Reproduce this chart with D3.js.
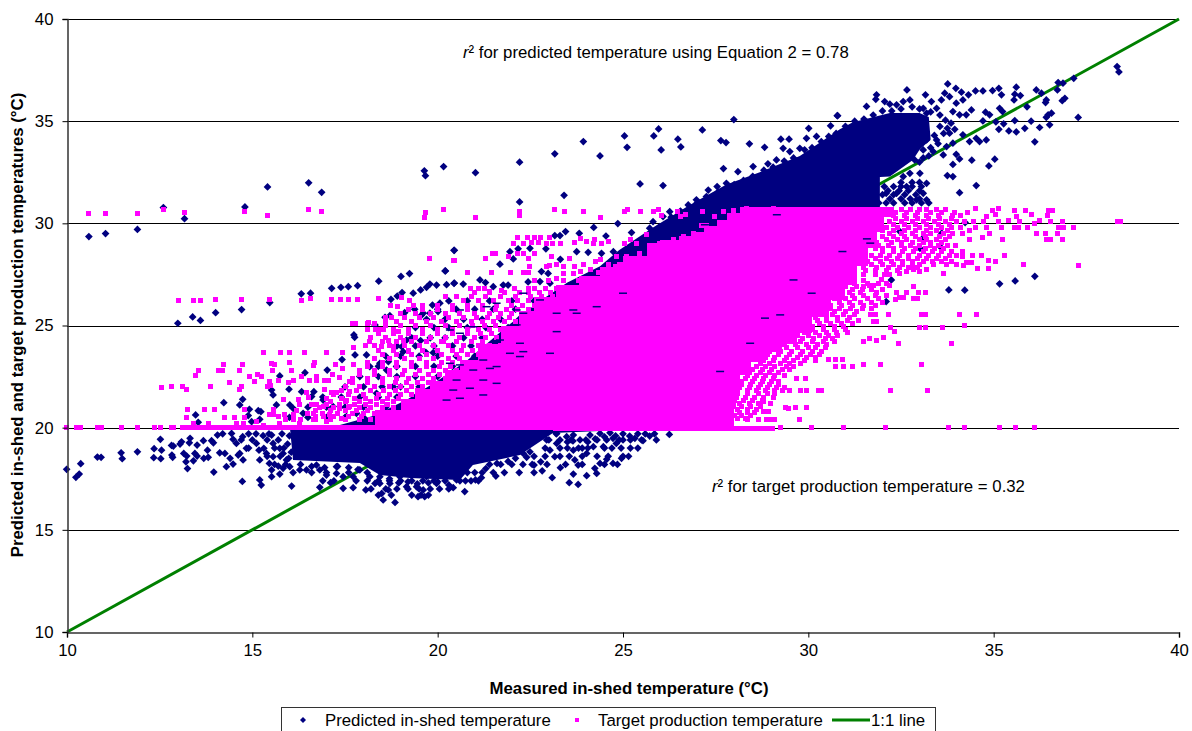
<!DOCTYPE html>
<html><head><meta charset="utf-8"><style>
html,body{margin:0;padding:0;background:#fff}
svg{display:block}
text{font-family:"Liberation Sans",Arial,sans-serif;fill:#000}
</style><script src="https://cdn.jsdelivr.net/npm/d3@7"></script></head><body><svg id="c" width="1192" height="731"></svg>
<script>
// All values are estimates, in degrees C [measured, value].
const xTicks=[10,15,20,25,30,35,40], yTicks=[10,15,20,25,30,35,40];
const lineEnds=[[10,10],[40,40]];
const legendLabels=["Predicted in-shed temperature","Target production temperature","1:1 line"];
// The overplotted solid parts of the two clouds are traced outlines: single markers cannot be read there.
const predictedCore=[[16.02,19.89],[16.1,18.42],[17.9,18.27],[18.44,17.68],[19.25,17.54],[20.6,17.44],[20.95,18.17],[22.22,18.66],[23.11,19.74],[24.38,19.84],[27.6,26.25],[31.93,30.8],[31.93,32.27],[32.2,32.29],[32.82,33.1],[33,33.6],[33.3,34.1],[33.25,35.2],[33,35.4],[32.2,35.4],[31.2,34.95],[30.85,34.6],[29.77,33.3],[28.69,32.5],[27.79,31.9],[26.8,30.9],[25.81,29.8],[24.9,28.7],[24.38,27.9],[23.5,27.1],[22.76,26.2],[21.9,25],[20.8,23.3],[20,22.3],[19.2,21.4],[18.3,20.6],[17.09,19.99]];
const targetCore=[[13.05,19.88],[13.05,20.12],[18.2,20.12],[18.3,20.85],[19,21.4],[19.4,21.9],[19.8,22.3],[20.2,22.8],[20.6,23.3],[21.1,24.1],[21.7,25],[22.2,25.7],[22.6,26.4],[23.2,27],[23.8,27.4],[24.38,27.87],[25,28.4],[25.65,29.04],[26,29.2],[26.5,29.4],[26.89,29.6],[27.2,29.85],[27.53,30.17],[27.8,30.5],[28.15,30.82],[32.47,30.82],[32.3,30.3],[32.05,29.6],[31.85,28.8],[31.6,27.9],[31.3,27],[31,26.25],[30.55,25.4],[30.1,24.63],[29.7,24.1],[29.3,23.7],[28.85,23.2],[28.45,22.6],[28.15,21.8],[28.05,20.9],[28,20.1],[29.1,20.1],[29.1,19.85]];
const predictedPoints=[[10.59,29.35],[11.04,29.5],[11.9,29.7],[12.6,30.77],[13.17,30.23],[14.8,30.8],[15.41,31.78],[16.52,31.98],[16.87,31.52],[19.64,32.57],[19.67,32.33],[20.16,32.78],[12.99,25.11],[13.39,25.42],[13.6,25.25],[14.01,25.63],[14.71,25.78],[15.47,26.12],[16.32,26.55],[16.57,26.58],[17.14,26.82],[17.39,26.87],[17.59,26.9],[17.84,26.95],[18.41,27.17],[19.01,27.4],[19.24,27.54],[20.45,28.68],[20.2,27.67],[20.24,27],[20.45,27.08],
[38.33,37.67],[38.38,37.41],[37.16,37.1],[36.87,36.86],[36.74,36.89],[36.72,36.53],[35.61,36.66],[36.15,36.53],[36.29,36.37],[35.57,36.32],[35.72,36.25],[35.55,36.04],[36.42,36.04],[36.4,35.91],[36.92,36.12],[36.85,36],[35.9,35.7],[37.28,35.18],[36.56,35.39],[36.47,35.31],[36.42,35.19],[36.01,35],[35.57,35.03],[35.27,34.87],[35.06,34.96],[34.71,35.01],[34.78,35.44],[34.89,35.31],[35.16,35.63],[35.24,35.47],[35.14,36.61],[35.21,36.29],[34.97,36.5],[34.71,36.48],[34.51,36.48],[33.76,36.82],[33.98,36.61],[34.13,36.42],[34.32,36.29],[32.66,36.53],[33.16,36.29],[31.84,36.29],[31.82,36.07],[32.06,35.96],[32.2,35.83],[31.57,35.72],[30.79,35.27],[35.14,34.6],[35.41,34.52],[35.61,34.47],[35.84,34.65],[36.24,34.69],[36.51,34.82],[36.11,33.99],[34.8,34.08],[34.62,34],[34.53,34.16],[34.35,34],[35.03,33.14],[34.87,32.81],[34.41,33.09],[34.08,33.15],[33.99,33.38],[33.9,32.88],[33.9,32.29],[33.75,32.34],[34.53,31.85],[34.08,31.5],
[32.38,35.8],[32.56,35.96],[32.74,36.04],[33.1,35.63],[33.32,35.96],[33.59,36.04],[33.81,36.2],[33.99,35.88],[34.17,36.04],[34.4,35.55],[34.26,35.31],[34.08,35.31],[33.9,35.47],[33.68,36.37],[33.46,35.63],[33.19,35.39],[33.01,34.74],[33.55,34.74],[33.81,34.41],[34.17,34.33],[33.46,34.08],[33.73,33.76],[33.9,33.92],[33.1,33.59],[33.37,33.51],[33.64,33.35],[33.01,34.41],[33.19,34.08],[32.87,33.1],[33.01,32.45],[33.19,31.96],[32.74,32.45],[32.56,32.29],[32.65,31.8],[33.1,31.47],[32.92,31.15],[33.19,31.15],[32.38,31.47],[32.1,31.47],
[21.02,32.48],[22.21,32.99],[23.16,33.4],[23.93,34],[24.38,33.3],[25.04,34.28],[25.11,33.72],[25.83,34.28],[25.96,34.62],[26.03,33.59],[26.48,34.12],[26.56,33.74],[27.14,34.57],[27.99,35.08],[27.64,34.05],[27.78,33.95],[28.41,33.89],[28.82,33.72],[29.26,34.12],[29.48,34.12],[29.32,33.67],[30.01,34.65],[30.78,35.27],[30.6,34.77],[27.71,32.68],[28.1,32.53],[28.51,32.78],[28.91,32.91],[29.14,33.1],[29.5,33.51],[29.77,33.67],[29.95,34.16],[30.22,34.25],[25.46,31.93],[26.08,31.85],[22.21,31.05],[23.41,31.37],[24.21,29.8],[24.86,29.99],[23.45,29.6],[23.16,29.4],[23.3,29.4],[23.82,29.51],[24.54,29.38],[25.23,29.55],[20.44,28.68],[20.21,27.67],[20.44,27.06],[20.69,27.03],[21.14,27.23],[21.29,27.1],[21.5,26.9],[21.77,26.98],[21.9,26.98],[21.68,28],[21.95,28.61],[22.04,28.26],[22.17,28.75],[22.44,27.13],[22.8,27.64],[22.98,27.55],[22.92,28.75],[22.49,28.78],[23.31,28.24],[23.75,28.61],[24.06,28.58],[24.42,28.53],[24.74,28.61],[22.76,27.15],[23.03,27.07],[25.81,30.08],[25.99,29.84],[25.72,29.76],[26.08,30.33],[26.26,30.57],[26.76,30.9],[26.98,31.15],[27.25,31.31],[27.3,31.63],[27.54,31.8],[27.79,31.96],[27.75,31.47],
[9.99,17.96],[10.37,18.24],[10.33,17.73],[10.24,17.57],[10.82,18.56],[10.92,18.55],[11.46,18.77],[11.49,18.48],[11.9,18.82],[12.35,18.97],[12.55,18.9],[12.34,18.53],[12.53,18.48],[12.52,19.43],[12.82,19.13],[12.87,19.1],[12.83,18.66],[12.85,18.55],[13.09,19.31],[13.05,19.2],[13.32,19.48],[13.3,19.26],[13.51,19.15],[13.68,19.36],[13.15,18.74],[13.23,18.61],[13.21,18.33],[13.25,18],[13.45,18.74],[13.51,18.61],[13.41,18.38],[13.69,18.5],[13.81,18.55],[13.79,18.9],[13.9,19.36],[13.95,19.26],[14.06,19.64],[14.12,18.77],[14.26,18.74],[14.4,18.5],[14.48,18.22],[14.3,18.09],[13.96,17.83],[14.44,19.72],[14.48,19.43],[14.57,19.23],[14.74,19.56],[14.84,18.99],[14.66,18.74],[14.75,18.42],[14.62,18.66],[14.73,17.37],[15.2,17.44],[15.24,17.19],[15.11,19.23],[15.29,19.61],[15.18,18.9],[15.31,18.99],[15.2,18.42],[15.46,18.25],[15.56,18.58],[15.38,18.74],[15.52,17.93],[15.52,17.6],[15.74,17.73],[15.83,18.01],[16.01,18.09],[16.06,17.14],[15.52,19.64],[15.56,19.23],[15.74,18.99],[15.83,18.74],[15.92,18.42],[15.7,18.12],[16.28,17.93],[16.46,17.93],[16.73,18.17],[16.82,17.93],[17,17.68],[17.27,18.09],[17.27,17.76],[16.82,17.08],[17.11,17.31],[17.45,17.03],[17.72,17.06],[18.06,16.95],[17.45,17.6],[17.72,17.6],[17.9,17.93],[18.17,17.6],[18.31,17.27],[18.44,17.27],[18.71,17.27],[18.49,16.78],[18.67,16.95],[18.53,16.46],[18.85,16.34],[19.47,16.62],[19.61,16.95],[19.65,16.62],[19.43,17.11],[19.97,17.27],[20.51,17.44],[19.16,17.11],[18.44,17.6],[18.98,17.6],[19.7,17.6],[20.24,17.6],
[17.74,24.54],[17.76,24.42],[17.77,23.56],[17.02,22.82],[17.42,23.33],[16.42,22.69],[15.74,22.53],[15.99,21.88],[16.33,21.76],[15.52,21.84],[15.56,21.6],[16.66,21.76],[16.6,21.52],[14.23,21.22],[14.74,21.39],[14.66,21.11],[14.92,20.9],[15.16,20.83],[15.23,20.78],[13.47,20.62],[13.54,20.26],[14.89,20.59],[14.98,20.29],[15.2,20.41],[15.65,21.11],[16.01,21.11],[16.1,20.95],[16.37,20.7],[16.91,21.35],[18.08,23.56],[18.17,22.99],[18.44,23.15],[18.67,23.23],[18.62,22.82],[18.89,22.99],[19.07,23.72],[19.03,23.96],[19.54,24.26],[19.88,23.67],[19.68,23.69],[19.16,24.29],[18.8,22],[18.35,21.68],[17.81,20.7],[17.54,20.54],[17.18,21.03],
[18.74,26.28],[18.91,26.44],[19.04,26.61],[19.34,26.58],[19.54,26.74],[19.7,26.87],[19.79,27.03],[19.97,26.98],[19.11,25.63],[19.38,25.79],[19.61,25.6],[19.86,26],[20.06,26.09],[19.79,25.6],[20.01,25.68],[18.58,25.4],[18.71,25.48],[18.31,25.02],[19.56,25.5],
[26.25,19.67],[25.72,19.59],[25.54,19.36],[25.32,19.48],[25.18,19.59],[24.96,18.5],[24.73,18.25],[24.56,18.45],[24.38,18.25],[24.24,18.01],[24.29,17.76],[24.02,17.65],[23.79,17.22],[23.66,17.73],[23.55,17.31],[23.31,18.04],[23.09,17.55],[22.82,17.89],[22.78,18.33],[22.6,18.17],[23.79,18.17],[23.7,18.42],[24.02,18.74],[23.66,18.9],[23.16,18.58],[23.03,18.9],[22.49,18.82],[22.94,19.4],[23.21,19.23],[23.48,19.56],[24.11,19.64],[24.47,19.07],[24.82,19.23],[24.2,19.07],[22.31,18.74],[21.57,17.63],[21.18,17.55],[21.02,17.44],[20.73,16.87],[20.42,17.06],[24.38,19.72],[24.56,19.4],[24.73,19.48],[25,19.4],[23.21,19.72],[23.66,19.64],[23.84,19.4],
[32.24,27.23],[32.1,26.17],[33.79,26.74],[34.22,26.73],[35.16,27.04],[35.58,27.18],[36.11,27.41],[33.6,29.52],[33.06,29.22],[33.01,28.78],[33.6,28.78],[34.23,30.04],[31.71,29.19],[32.47,29.6],[30.9,28.62],
[16.3,18.2],[16.6,18.1],[16.95,18.05],[17.3,18.1],[17.6,18.05],[17.85,17.95],[18.1,17.8],[18.4,17.4],[18.7,17.5],[18.95,17.3],[19.2,17.35],[19.45,17.25],[19.75,17.3],[20,17.35],[20.3,17.2],[20.75,17.4],[21,17.8],[21.3,18],[21.6,18.25],[21.9,18.35],[22.1,18.5],[22.4,18.55],[16,19.6],[15.95,19.2],[16.05,18.8],[15.98,18.5],[23.3,19],[23.5,19.3],[23.65,19.35],[23.9,19],[24.05,19.3],[24.25,19.45],[24.5,19.55],[24.8,19.6],[25,19.7],[24.65,19.75],[24.3,19.4],
[26.3,30.3],[26.55,30.6],[27,31],[27.3,31.2],[27.55,31.5],[28,31.9],[28.25,32.1],[28.5,32.3],[28.8,32.6],[29.05,32.75],[29.35,33.05],[29.6,33.2],[29.9,33.6],[30.1,33.7],[30.35,34],[30.55,34.25],[30.75,34.4],[31,34.75],[31.25,35],[31.5,35.1],[31.75,35.3],[32,35.5],[32.25,35.5],[32.5,35.6],[32.8,35.7],[33,35.6],[33.3,35.45],[33.55,35.3],[33.7,35.05],[33.85,34.9],[33.75,34.65],[33.65,34.4],[33.95,34.6],[33.4,34.3],[33.3,33.7],[33.5,33.9],[33.1,33.2],[33.25,33.3],[33,33]];
const predictedRows=[[32,[32.5,32.8,33]],[31.8,[32.05,32.3,32.5,32.8,33.05]],[31.6,[32.15,32.45,32.7,33]],[31.4,[32,32.3,32.6,32.9]],[31.2,[32.2,32.5,32.75,33]],[31,[31.9,32.1,32.3,32.6,32.8,33.05,33.25]],[26.2,[20.3,20.8,21.4,22,22.6,23.3]],[25.8,[20,20.5,21,21.5,22.1,22.7,23.2]],[25.3,[19.7,20.2,20.7,21.2,21.7,22.2,22.8]],[24.9,[19.4,19.9,20.3,20.8,21.3,21.9,22.4]],[24.4,[19.3,19.8,20.2,20.7,21.2,21.7]],[24,[18.9,19.4,19.9,20.4,20.9,21.4,22]],[23.5,[18.6,19,19.5,20,20.5,21]],[23,[18.4,18.9,19.4,19.9,20.4]],[22.5,[17.9,18.4,18.9,19.4,20,20.6]],[22,[17.5,18,18.5,19,19.5,20]],[21.5,[16.9,17.4,17.9,18.4,18.9,19.4]],[21,[16.5,17,17.5,18,18.6,19.2]],[20.5,[16,16.5,17,17.5,18]],
[17,[18.2,18.6,18.9,19.2,19.5,19.8,20.05,20.3]],[16.7,[18.4,18.75,19.3,19.55,19.75]],[17.4,[16.9,17.2,17.8,18.1,18.7,19,19.3,19.6,19.9,20.2,20.6,20.9,21.1]],[17.8,[16.1,16.6,17,17.6,20.8,21.2,21.5,21.8,22.2,22.6]],[18.2,[15.6,15.9,21.4,21.7,22,22.3,22.55,22.95,23.45,23.9,24.5,24.85]],[18.6,[15.4,15.75,22.6,22.9,23.3,23.55,23.9,24.3,24.6,25,25.15]],[19,[14.9,15.6,15.85,22.9,23.5,23.8,24.05,24.5,24.7,24.95,25.2,25.4]],[19.4,[14.7,15,15.4,15.7,23,23.3,23.6,24,24.9,25.2,25.5,25.9]],[19.7,[14.2,14.9,15.1,15.45,15.8,23.2,25.4,25.6,25.85]]];
// Places where predicted markers show through the solid target cloud.
const predictedShowThrough=[[21.32,25.92],[21.59,26.09],[20.6,25.76],[20.33,24.78],[20.6,24.62],[20.96,24.94],[22.13,25.76],[23.21,24.7],[23.75,25.6],[22.13,25.03],[22.31,23.72],[21.95,23.64],[22.22,23.48],[21.41,22.9],[21.59,22.99],[20.6,23.07],[20.33,23.15],[20.96,22.82],[20.51,22.33],[20.87,21.93],[20.42,21.84],[21.23,21.6],[20.6,21.44],[20.24,21.35],[23.03,23.64],[22.22,24.13],[21.68,24.29],[21.23,22.33],[21.59,22.17],[21.23,23.31],[23.66,25.76],[25,26.58],[24.29,25.92],[23.21,25.6],[22.31,25.6],[22.31,26.58],[22.76,26.25],[30.92,28.62],[31.58,29.24],[29.6,27.23],[30.09,26.58],[29.24,25.52],[28.83,25.36],[28.43,24.13],[27.62,22.75],[31.67,29.03],[27.53,30.58],[27.21,29.93],[29.15,30.42]];
const targetPoints=[[10.59,30.49],[11.04,30.49],[11.9,30.49],[12.6,30.7],[13.17,30.55],[14.8,30.6],[15.41,30.4],[16.52,30.7],[16.87,30.6],[19.64,30.3],[19.67,30.55],[20.16,30.7],[13,26.2],[13.4,26.2],[13.6,26.2],[14,26.25],[14.7,26.25],[15.47,26.25],[16.32,26.2],[16.57,26.3],[17.14,26.25],[17.39,26.25],[17.59,26.25],[17.84,26.25],[18.41,26.3],[19.79,28.3],[20.45,28.2],
[9.99,20],[10.26,20],[10.37,20],[10.82,20],[10.93,20],[11.47,20],[11.9,20],[12.35,20],[12.52,20],[12.82,20],[12.88,20],[29.26,20],[30.09,20],[30.96,20],[32.09,20],[33.79,20],[34.21,20],[35.16,20],[35.58,20],[36.11,20],[38.35,30.09],[38.42,30.09],
[15.29,23.69],[15.76,23.69],[16.01,23.67],[16.42,23.69],[17.01,23.69],[17.42,23.69],[17.72,23.92],[18.06,24],[18.17,24.21],[18.35,24.78],[18.53,24.78],[18.67,24.29],[18.8,23.96],[18.49,23.96],[18.94,24.7],[19.07,24.29],[19.2,23.72],[19.7,24.21],[20.15,24.21],[18.1,24.78],[18.31,24.78],[17.72,25.1],[17.77,25.1],[18.13,25.14],[14.23,23.1],[14.74,23.1],[13.54,22.79],[13.46,22.53],[14.08,22.79],[14.2,22.79],[14.66,22.79],[15.52,23.15],[15.61,23.1],[15.99,23.2],[16.69,23.2],[16.64,23.02],[17.25,23.1],[17.43,22.9],[17.74,23.1],[16.06,22.79],[15.55,22.79],[14.92,22.5],[15.13,22.61],[15.25,22.5],[15.07,22.25],[14.39,22.2],[13.86,22],[13.12,22],[13.23,21.89],[12.82,22],[12.54,21.96],[14.71,22],[14.66,21.88],[15.47,22.28],[15.49,22.06],[15.4,22],[15.7,22.3],[15.97,22.22],[16.12,22.3],[16.33,22.5],[16.55,22.3],[16.73,22.3],[16.73,22.5],[16.96,22.3],[17.05,22.3],[17.16,22.61],[17.34,22.46],[16.96,21.89],[17.14,21.71],[17.27,21.71],[16.46,21.71],[16.51,21.48],[17.63,22.28],[17.63,21.76],[17.54,21.35],[17.63,21.03],[15.83,21.4],[16.24,21.4],[16.28,21.11],[16.73,21.11],[16.91,21.06],[17.36,20.95],[16.64,20.7],[16.91,20.54],[17.09,20.62],[17.41,20.46],[16.1,20.62],[16.1,20.41],[15.56,20.9],[15.88,20.62],[14.8,20.9],[14.78,20.49],[14.51,20.49],[14.26,20.49],[13.97,20.9],[13.7,20.9],[13.24,20.9],[13.23,20.5],[15.56,20.62],[15.47,20.62],[15.11,20.29],[13.41,20.21],[13.83,20.21],[14.57,20.21],[14.75,20.21],[15.29,20.13],[15.74,20.21],[16.28,20.21],[16.64,20.38],[17,20.29],
[34.5,30.71],[35.12,30.71],[35.56,30.63],[35.86,30.63],[36.47,30.63],[36.59,30.63],[34.96,30.63],[35.62,30.33],[36.02,30.42],[35.06,30.42],[34.81,30.33],[36.46,30.37],[36.11,30.01],[36.23,30.12],[36.54,30.09],[36.86,30.09],[35.71,30.09],[35.4,30.12],[35.14,30.09],[34.72,30.09],[34.45,30.09],[35.2,29.81],[35.56,29.81],[35.67,29.81],[35.92,29.81],[36.74,29.81],[36.88,29.81],[37.15,29.81],[34.9,29.52],[36.16,29.52],[36.41,29.52],[36.72,29.52],[36.43,29.22],[36.54,29.22],[36.86,29.22],[35.23,29.22],[34.7,29.32],[34.34,29.22],[33.98,28.91],[34.68,28.41],[35.29,28.41],[34.87,28.16],[35.04,28.13],[34.87,27.8],[34.57,27.8],[35.8,27.97],[37.28,27.92],[34.16,28.62],[34.43,28.42],[34.27,28.1],[34.41,28.1],[34.16,28.38],[34,27.97],[34.18,27.92],[33.87,28.13],[33.73,27.97],[33.64,27.53],[33.37,27.97],[33.19,27.72],[33.01,27.64],[32.83,27.72],[32.65,27.64],[32.47,27.56],[32.2,27.48],[31.98,27.23],[32.83,26.91],[32.97,26.61],[33.17,26.61],[32.65,26.61],[32.83,26.32],[32.94,26.32],[32.56,26.37],[32.46,26.38],[32.34,26.29],[32.38,26.61],[32.2,26.94],[31.75,26.94],[31.66,26.94],[31.83,26.61],[33.06,25.52],[33.15,25.52],[34.09,25.52],[34.54,25.52],[32.17,25.52],[31.67,25.52],[31.8,25.52],[31.76,25.19],[31.84,25.19],[33.01,24.9],[33.17,24.9],[33.62,24.9],[34.21,25],[32.23,24.9],[32.32,24.7],[32.03,24.41],[31.83,24.28],[31.64,24.36],[31.49,24.21],[32.44,24.1],[33.87,24.1],[33.06,23.07],[31.96,23.1],[31.49,23.07],[31.19,23],[30.95,23],[30.74,23],[30.92,23.32],[30.72,23.32],[30.54,23.35],[32.23,21.8],[33.21,21.8],[30.27,21.8],[30.36,21.8],[29.94,21.82],[29.78,21.82],[29.67,22.39],[29.93,22.39],[29.76,20.41],[29.94,21],[29.66,21],[29.39,21],[29.46,20.93],[29.1,20.41],[28.99,20.41],[28.86,20.41],[28.65,20.41],[28.36,20.41],[28.79,20.79],[28.92,20.79],[28.97,21.2],[28.79,21.28],
[22.15,29.3],[22.42,29.3],[22.62,29.3],[22.78,29.3],[23.03,29.3],[22.53,29.06],[22.71,29.06],[22.94,29.02],[23.1,29.02],[23.31,29.02],[22.04,29],[22.31,29],[23.7,29.06],[23.84,29.27],[24.02,29.1],[24.24,29.22],[24.2,29.02],[24.42,29.02],[24.6,29.1],[25.05,29.02],[25.2,29.22],[25.36,29.02],[25.63,29.43],[21.02,30.3],[22.21,30.6],[22.21,30.38],[23.16,30.7],[23.41,30.6],[23.93,30.6],[24.38,30.3],[25.03,30.6],[25.11,30.7],[25.46,30.6],[25.83,30.6],[25.96,30.7],[26.04,30.38],[26.48,30.6],[26.56,30.31],[26.69,30.41],[27.14,30.6],[27.12,29.89],[27.25,29.89],[27.48,30.33],[27.7,30.57],[27.97,30.65],[28.33,30.74],[28.69,30.62],[29.05,30.74],[26.89,29.51],[27.25,29.68],[27.61,29.84],[27.79,30],[26.62,29.35],[26.35,29.19],[25.99,29.02],[25.81,28.86],[25.45,28.53],[25.09,28.37],[24.82,28.37],[20.44,28.19],[20.81,27.6],[21.45,27.6],[21.29,28.29],[21.48,28.5],[21.57,28.5],[21.9,28.37],[22.15,28.5],[22.31,28.5],[22.44,28.3],[22.62,28.5],[23.07,28.4],[21.97,27.59],[22.31,27.59],[22.44,27.59],[22.49,27.88],[22.94,27.88],[23.03,27.96],[23.21,27.99],[23.4,27.88],[23.68,27.91],[23.94,27.99],[24.26,28.13],[23.57,28.29],[20.89,26.79],[21.09,26.79],[21.27,26.79],[21.41,26.66],[21.72,26.71],[22.08,26.82],[22.44,26.79],[23.21,27.31],[23.39,27.55],[23.66,27.55],[23.84,27.64],[24.11,27.72],[24.38,28.21],[17.69,25.11],[18.11,25.11],[18.29,25.11],[18.58,25.4],[18.74,26],[18.91,25.92],[19.03,26.36],[19.23,26.2],[19.34,26],[24.6,27.6],[24.8,27.9],[25,28],[25.2,28.2]];
const targetRows=[
[30.7,[32.2,32.5,32.75,33,33.2,33.45,33.7]],[30.4,[32.3,32.6,32.9,33.2,33.5,33.9,34.1]],[30.1,[32.2,32.5,32.8,33.1,33.4,33.7,34,34.2]],[29.8,[32.1,32.4,32.7,33,33.3,33.6,33.85,34.1,34.5,34.8]],[29.5,[32.2,32.5,32.8,33.1,33.3,33.65,33.9,34.15]],[29.2,[32.1,32.4,32.65,33,33.2,33.45,33.7]],[28.9,[31.9,32.15,32.5,32.75,33,33.3,33.5,33.75]],[28.6,[32,32.3,32.55,32.85,33.1,33.35,33.6,33.85]],[28.3,[31.8,32.1,32.4,32.7,32.95,33.2,33.45,33.7]],[28,[31.7,32,32.3,32.55,32.8,33]],[27.7,[31.55,31.8,32.1,32.4]],
[27.2,[30.9,31.2,31.5]],[26.9,[30.7,31,31.3,31.5]],[26.6,[30.5,30.8,31.1,31.4]],[26.3,[30.4,30.7,31,31.25,31.6,31.9]],[26,[30.3,30.6,30.9,31.2,31.5,31.8]],[25.7,[30.1,30.4,30.7,31,31.3]],[25.4,[29.9,30.2,30.5,30.8,31.1]],[25.1,[29.7,30,30.3,30.6,30.9,31.2]],[24.8,[29.5,29.8,30.1,30.4,30.7,31]],[24.5,[29.4,29.7,30,30.3,30.55,30.8]],[24.2,[29.2,29.5,29.8,30.1,30.4,30.7]],[23.9,[29.1,29.4,29.7,30,30.2,30.45]],[23.6,[28.9,29.2,29.5,29.8,30.05,30.3]],[23.3,[28.8,29.05,29.35,29.6,29.9,30.2]],[23,[28.6,28.85,29.1,29.4,29.6]],[22.7,[28.4,28.7,28.95,29.2]],[22.4,[28.3,28.55,28.8,29.05]],[22.1,[28.2,28.45,28.7,28.95,29.2]],[21.8,[28.1,28.35,28.6,28.85,29.1,29.3,29.5]],[21.5,[28.05,28.3,28.55,28.8,29.05]],[21.2,[27.9,28.15,28.4,28.65]],[20.9,[27.85,28.1,28.35,28.6]],[20.6,[27.75,28,28.2,28.45]],
[30.55,[32.35,32.65,32.95,33.3,33.6,33.95,34.3]],[30.25,[32.35,32.65,32.95,33.25,33.55,33.85]],[29.95,[32.3,32.6,32.9,33.2,33.5,33.8]],[29.65,[32,32.3,32.6,32.9,33.2,33.45,33.75,34.35]],[29.35,[32,32.3,32.6,32.9,33.15,33.55,33.8]],[29.05,[31.85,32.25,32.5,32.8,33.1,33.3,33.6]],[28.75,[31.8,32,32.3,32.6,32.9,33.15,33.4,33.65]],[28.45,[31.7,31.95,32.2,32.45,32.7,33,33.25,33.5,33.8,34]],[28.15,[31.6,31.95,32.25,32.55,32.8,33.1,33.35,33.6]],[27.85,[31.5,31.85,32.15,32.45,32.7,32.95]],[27.5,[31.2,31.5,31.8,32.05]],
[27.05,[30.95,31.25,31.6,31.9,32.1]],[26.75,[30.6,30.9,31.2,31.45,31.7,32]],[26.45,[30.35,30.6,30.9,31.2,31.5,31.8,32.1]],[26.15,[30.3,30.55,30.85,31.1,31.4,31.7,32]],[25.85,[30,30.3,30.6,30.85,31.15,31.45,31.7]],[25.55,[29.8,30.1,30.4,30.65,30.95,31.25]],[25.25,[29.65,29.95,30.25,30.5,30.8,31.05,31.35]],[24.95,[29.55,29.8,30.1,30.4,30.7,30.95]],[24.65,[29.3,29.6,29.9,30.2,30.5,30.75,31.05]],[24.35,[29.2,29.55,29.85,30.15,30.45,30.65]],[24.05,[29.1,29.35,29.65,29.95,30.25,30.5]],[23.75,[28.95,29.25,29.55,29.85,30.1,30.35]],[23.45,[28.85,29.1,29.4,29.7,29.95,30.2]],[23.15,[28.7,28.95,29.25,29.5,29.8]],[22.85,[28.5,28.75,29,29.3,29.5]],[22.55,[28.35,28.6,28.85,29.1,29.35]],[22.25,[28.2,28.5,28.75,29,29.2]],[21.95,[28.15,28.4,28.65,28.9,29.15,29.35]],[21.65,[28.1,28.35,28.65,28.9,29.1]],[21.35,[28,28.25,28.5,28.75]],[21.05,[27.95,28.2,28.45,28.7]],[20.75,[27.9,28.15,28.35,28.55]],[20.45,[27.9,28.1,28.3]],
[27.2,[22.6,23,23.4,23.8,24.1,24.5]],[26.8,[22.6,22.9,23.2,23.5,23.8,24.05,24.3,24.5]],[26.4,[20.2,20.5,20.9,21.3,21.7,22.1,22.5,22.8,23.1,23.4,23.7,23.95,24.2]],[26,[19.6,20,20.4,20.8,21.2,21.6,22,22.3,22.6,22.9,23.2,23.5,23.8,24]],[25.6,[19,19.4,19.8,20.2,20.6,21,21.4,21.7,22,22.3,22.6,22.9,23.2,23.5,23.8]],[25.2,[18.6,18.9,19.3,19.7,20.1,20.5,20.9,21.2,21.5,21.8,22.1,22.4,22.7,23,23.3,23.6]],[24.8,[18.4,18.8,19.2,19.6,20,20.4,20.8,21.1,21.4,21.7,22,22.3,22.6,22.9,23.2]],[24.4,[18.2,18.6,19,19.4,19.8,20.2,20.6,21,21.3,21.6,21.9,22.2,22.5,22.8,23.1]],[24,[18.3,18.7,19.1,19.5,19.9,20.3,20.7,21.1,21.4,21.7,22,22.3,22.6,22.9]],[23.6,[18.5,18.9,19.3,19.7,20.1,20.5,20.8,21.1,21.4,21.7,22,22.3,22.6]],[23.2,[18.1,18.5,18.9,19.3,19.7,20.1,20.4,20.7,21,21.3,21.6,21.9,22.2,22.4]],[22.8,[17.9,18.3,18.7,19.1,19.5,19.9,20.2,20.5,20.8,21.1,21.4,21.7,22,22.3]],[22.4,[17.7,18.1,18.5,18.9,19.2,19.6,19.9,20.2,20.5,20.8,21.1,21.4,21.7,22]],[22,[17.5,17.9,18.3,18.7,19,19.3,19.6,19.9,20.2,20.5,20.8,21.1,21.4,21.7]],[21.6,[17.2,17.6,18,18.4,18.7,19,19.3,19.6,19.9,20.2,20.5,20.8,21.1,21.4]],[21.3,[17.1,17.5,17.9,18.2,18.5,18.8,19.1,19.4,19.7,20,20.3,20.6,20.9]],[21,[16.8,17.2,17.6,17.9,18.2,18.5,18.8,19.1,19.4,19.7,20]],[20.7,[16.5,16.9,17.3,17.7,18,18.3]],[20.4,[15.9,16.3,16.7,17.1,17.5,17.9,18.2]],
[28,[24.6,24.9]],[27.6,[24.35,24.6]],[26.6,[21,21.4,21.8,22.2,22.45,22.75,23.05,23.35,23.65,23.9,24.15,24.4]],[26.2,[20.7,21.1,21.5,21.9,22.15,22.45,22.75,23.05,23.35,23.65,23.9]],[25.8,[19.2,19.6,20,20.4,20.8,21.2,21.55,21.85,22.15,22.45,22.75,23.05,23.35]],[25.4,[18.75,19.1,19.5,19.9,20.3,20.7,21.05,21.35,21.65,21.95,22.25]],[25,[18.6,19,19.4,19.8,20.2,20.6,20.95,21.25,21.55]],[24.6,[18.4,18.8,19.2,19.6,20,20.4,20.8,21.15,21.45]],[24.2,[18.5,18.9,19.3,19.7,20.1,20.5,20.9,21.2]],[23.8,[18.4,18.8,19.2,19.6,20,20.4,20.65,20.95]],[23.4,[18.3,18.7,19.1,19.5,19.9,20.3,20.6]],[23,[18.1,18.5,18.9,19.3,19.7,20.05,20.35]],[22.6,[17.9,18.3,18.7,19.05,19.4,19.75,20.05]],[22.2,[17.7,18.1,18.5,18.85,19.15,19.45,19.75]],[21.8,[17.4,17.8,18.2,18.55,18.85,19.15,19.45]],[21.45,[17,17.4,17.75,18.05,18.35,18.65,18.95]],[21.15,[16.6,17,17.35,17.75,18.05,18.35,18.65]],[20.85,[16.2,16.7,17.1,17.5,17.8,18.1]],[20.55,[15.7,16.1,16.7,17.2,17.6,17.95]]];

const NAVY="#000080",PINK="#ff00ff",GREEN="#008000",FONT=16.8;
const svg=d3.select("#c");
const x=d3.scaleLinear().domain([10,40]).range([67,1179]);
const y=d3.scaleLinear().domain([10,40]).range([632,19]);
const expand=rows=>rows.flatMap(([v,xs])=>xs.map(m=>[m,v]));
const pred=predictedPoints.concat(expand(predictedRows));
const targ=targetPoints.concat(expand(targetRows));
const square=d3.symbol().type(d3.symbolSquare);
const outline=d3.line().x(d=>x(d[0])).y(d=>y(d[1]));
const stepped=d3.line().x(d=>x(d[0])).y(d=>y(d[1])).curve(d3.curveStepAfter);

svg.append("g").selectAll("line").data(yTicks.filter(t=>t>10)).join("line")
 .attr("x1",x(10)).attr("x2",x(40)).attr("y1",d=>Math.round(y(d))+.5).attr("y2",d=>Math.round(y(d))+.5)
 .attr("stroke","#000").attr("stroke-width",1);

svg.append("path").attr("d",outline(lineEnds)).attr("stroke",GREEN).attr("stroke-width",3).attr("fill","none");

svg.append("path").attr("d",outline(predictedCore)+"Z").attr("fill",NAVY);
svg.append("g").selectAll("path").data(pred).join("path")
 .attr("d",square.size(30)()).attr("fill",NAVY)
 .attr("transform",d=>`translate(${x(d[0])},${y(d[1])}) rotate(45)`);
svg.append("path").attr("d",stepped(targetCore)+"Z").attr("fill",PINK).attr("shape-rendering","crispEdges");
svg.append("g").selectAll("path").data(targ).join("path")
 .attr("d",square.size(25)()).attr("fill",PINK).attr("shape-rendering","crispEdges")
 .attr("transform",d=>`translate(${x(d[0])},${y(d[1])})`);
svg.append("g").selectAll("line").data(predictedShowThrough).join("line")
 .attr("x1",d=>x(d[0])-4).attr("x2",d=>x(d[0])+4).attr("y1",d=>y(d[1])).attr("y2",d=>y(d[1]))
 .attr("stroke",NAVY).attr("stroke-width",1.5);

const ax=svg.append("g").attr("transform","translate(0,632.5)").call(d3.axisBottom(x).tickValues(xTicks).tickSize(5).tickPadding(7).tickFormat(d3.format("d")));
const ay=svg.append("g").attr("transform","translate(67.5,0)").call(d3.axisLeft(y).tickValues(yTicks).tickSize(5).tickPadding(9).tickFormat(d3.format("d")));
[ax,ay].forEach(a=>{a.selectAll("text").attr("font-size",FONT).style("font-family",'"Liberation Sans"').attr("fill","#000");
 a.select(".domain").attr("stroke","#333").attr("stroke-width",1.5);a.selectAll(".tick line").attr("stroke","#000");});

svg.append("text").attr("x",629).attr("y",694).attr("text-anchor","middle").attr("font-size",FONT).attr("font-weight","bold").text("Measured in-shed temperature (°C)");
svg.append("text").attr("transform","translate(23,325) rotate(-90)").attr("text-anchor","middle").attr("font-size",FONT).attr("font-weight","bold").text("Predicted in-shed and target production temperatures (°C)");

const note=(px,py,rest)=>{const t=svg.append("text").attr("x",px).attr("y",py).attr("font-size",FONT);
 t.append("tspan").attr("font-style","italic").text("r");t.append("tspan").text(rest);};
note(463,58,"² for predicted temperature using Equation 2 = 0.78");
note(712,492,"² for target production temperature = 0.32");

const lg=svg.append("g");
lg.append("rect").attr("x",281.5).attr("y",707.5).attr("width",654).attr("height",30).attr("fill","#fff").attr("stroke","#333");
lg.append("path").attr("d",square.size(18)()).attr("fill",NAVY).attr("transform","translate(303,720) rotate(45)");
lg.append("path").attr("d",square.size(20)()).attr("fill",PINK).attr("shape-rendering","crispEdges").attr("transform","translate(577,720)");
lg.append("line").attr("x1",832).attr("x2",870).attr("y1",720).attr("y2",720).attr("stroke",GREEN).attr("stroke-width",3);
[[325,0],[598,1],[871,2]].forEach(([px,i])=>lg.append("text").attr("x",px).attr("y",726).attr("font-size",FONT).text(legendLabels[i]));
</script></body></html>
